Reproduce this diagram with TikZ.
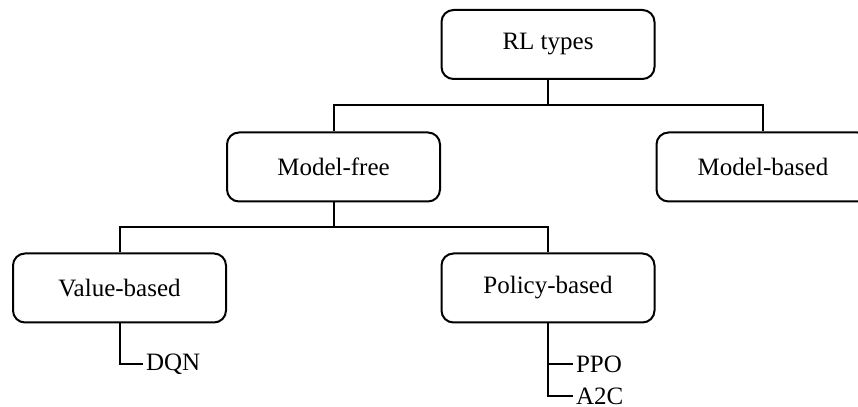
\documentclass[tikz,border=0pt]{standalone}
\usepackage{fontspec}
\setmainfont{Liberation Serif}
\begin{document}
\begin{tikzpicture}[x=0.5pt,y=0.5pt,line width=1pt,font=\fontsize{12.5}{15}\selectfont,
  box/.style={draw,rounded corners=6pt,minimum width=106.5pt,minimum height=34.5pt},
  leaf/.style={anchor=west,inner sep=1pt}]
\useasboundingbox (0,0) rectangle (858,407);
\clip (0,0) rectangle (858,407);
% boxes
\node[box] (root)   at (548,362.5) {RL types};
\node[box] (free)   at (333.5,240) {Model-free};
\node[box] (based)  at (763,240)   {Model-based};
\node[box] (value)  at (119.5,119) {Value-based};
\node[box] (policy) at (548,119)   {Policy-based};
% algorithms
\node[leaf] (dqn) at (143,43) {DQN};
\node[leaf] (ppo) at (573,43) {PPO};
\node[leaf] (a2c) at (573,11) {A2C};
% tree lines
\coordinate (bus1) at (548,302);
\coordinate (bus2) at (333.5,180);
\draw (root.south) -- (bus1);
\draw (free.north) |- (bus1) -| (based.north);
\draw (free.south) -- (bus2);
\draw (value.north) |- (bus2) -| (policy.north);
\draw (value.south) |- (dqn.west);
\draw (policy.south) |- (ppo.west);
\draw (policy.south) |- (a2c.west);
\end{tikzpicture}
\end{document}
